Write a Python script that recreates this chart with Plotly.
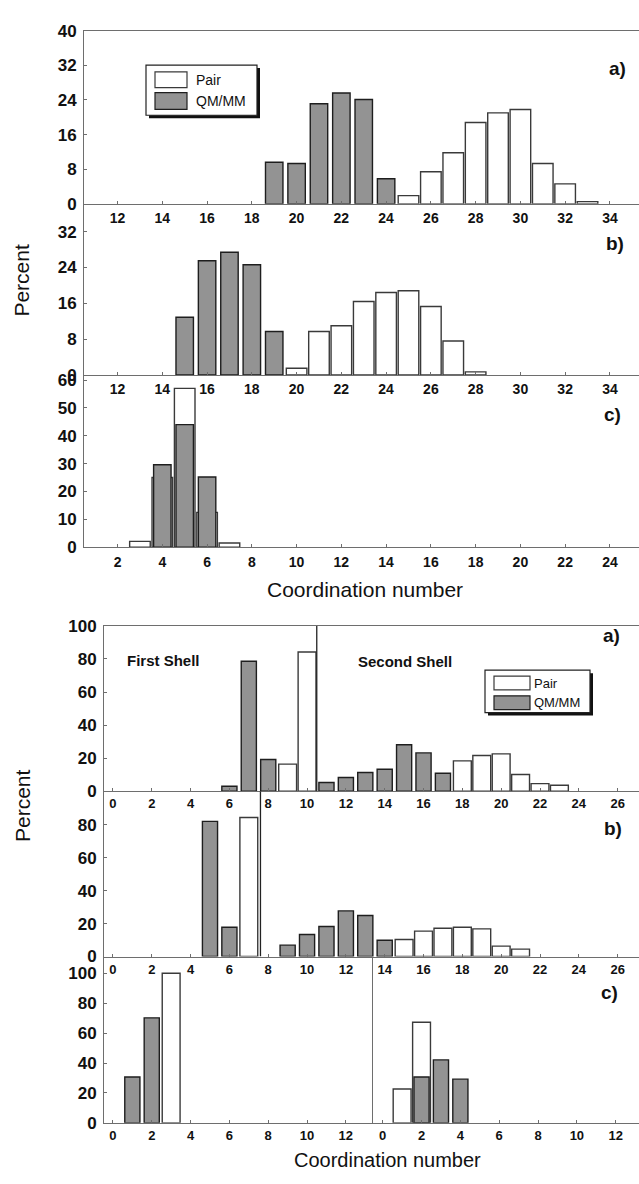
import plotly.graph_objects as go

W, H = 639, 1184


def fx(p):
    return p / W


def fy(p):
    return 1 - p / H


# ---------------- data ----------------
# Upper figure
TOP_A_QMMM_X = [19, 20, 21, 22, 23, 24]
TOP_A_QMMM_Y = [9.6, 9.3, 23.1, 25.6, 24.1, 5.8]
TOP_A_PAIR_X = [25, 26, 27, 28, 29, 30, 31, 32, 33]
TOP_A_PAIR_Y = [1.9, 7.4, 11.8, 18.8, 21.0, 21.8, 9.3, 4.6, 0.5]

TOP_B_QMMM_X = [15, 16, 17, 18, 19]
TOP_B_QMMM_Y = [12.9, 25.5, 27.4, 24.6, 9.7]
TOP_B_PAIR_X = [20, 21, 22, 23, 24, 25, 26, 27, 28]
TOP_B_PAIR_Y = [1.5, 9.7, 11.0, 16.4, 18.4, 18.8, 15.3, 7.6, 0.7]

TOP_C_PAIR_X = [3, 4, 5, 6, 7]
TOP_C_PAIR_Y = [2.1, 25.0, 57.0, 12.5, 1.5]
TOP_C_QMMM_X = [4, 5, 6]
TOP_C_QMMM_Y = [29.6, 44.0, 25.2]

TOP_AB_TICKS = [12, 14, 16, 18, 20, 22, 24, 26, 28, 30, 32, 34]
TOP_C_TICKS = [2, 4, 6, 8, 10, 12, 14, 16, 18, 20, 22, 24]
TOP_A_YTICKS = [0, 8, 16, 24, 32, 40]
TOP_B_YTICKS = [0, 8, 16, 24, 32]
TOP_C_YTICKS = [0, 10, 20, 30, 40, 50, 60]

# Lower figure
BOT_A_QMMM_X = [6, 7, 8, 11, 12, 13, 14, 15, 16, 17]
BOT_A_QMMM_Y = [3.0, 78.6, 19.2, 5.3, 8.3, 11.3, 13.3, 28.1, 23.2, 10.9]
BOT_A_PAIR_X = [9, 10, 18, 19, 20, 21, 22, 23]
BOT_A_PAIR_Y = [16.4, 84.2, 18.4, 21.6, 22.6, 10.1, 4.6, 3.6]

BOT_B_QMMM_X = [5, 6, 9, 10, 11, 12, 13, 14]
BOT_B_QMMM_Y = [82.0, 17.8, 6.9, 13.4, 18.2, 27.7, 24.9, 9.9]
BOT_B_PAIR_X = [7, 15, 16, 17, 18, 19, 20, 21]
BOT_B_PAIR_Y = [84.4, 10.3, 15.4, 17.2, 17.8, 16.8, 6.3, 4.5]

BOT_CL_QMMM_X = [1, 2]
BOT_CL_QMMM_Y = [30.7, 70.2]
BOT_CL_PAIR_X = [3]
BOT_CL_PAIR_Y = [100.0]

BOT_CR_PAIR_X = [1, 2]
BOT_CR_PAIR_Y = [22.6, 67.3]
BOT_CR_QMMM_X = [2, 3, 4]
BOT_CR_QMMM_Y = [30.7, 42.1, 29.2]

BOT_AB_TICKS = list(range(0, 27, 2))
BOT_C_TICKS = list(range(0, 13, 2))
BOT_A_YTICKS = [0, 20, 40, 60, 80, 100]
BOT_B_YTICKS = [0, 20, 40, 60, 80]
BOT_C_YTICKS = [0, 20, 40, 60, 80, 100]

SHELL_DIVIDER_A = 10.5
SHELL_DIVIDER_B = 7.6

# ---------------- style ----------------
FONT = "Arial, Liberation Sans, sans-serif"
QM_FILL = "#939393"
QM_LINE = "#1e1e1e"
PAIR_FILL = "#ffffff"
PAIR_LINE = "#3a3a3a"
AXIS_COLOR = "#6e6e6e"
PAIR_W = 0.92
QM_W = 0.78

fig = go.Figure()


def add_bars(xs, ys, xa, ya, kind):
    if kind == "pair":
        fig.add_trace(go.Bar(x=xs, y=ys, width=PAIR_W, xaxis=xa, yaxis=ya,
                             marker=dict(color=PAIR_FILL, line=dict(color=PAIR_LINE, width=1.4)),
                             showlegend=False, name="Pair"))
    else:
        fig.add_trace(go.Bar(x=xs, y=ys, width=QM_W, xaxis=xa, yaxis=ya,
                             marker=dict(color=QM_FILL, line=dict(color=QM_LINE, width=1.4)),
                             showlegend=False, name="QM/MM"))


add_bars(TOP_A_PAIR_X, TOP_A_PAIR_Y, "x", "y", "pair")
add_bars(TOP_A_QMMM_X, TOP_A_QMMM_Y, "x", "y", "qm")
add_bars(TOP_B_PAIR_X, TOP_B_PAIR_Y, "x2", "y2", "pair")
add_bars(TOP_B_QMMM_X, TOP_B_QMMM_Y, "x2", "y2", "qm")
add_bars(TOP_C_PAIR_X, TOP_C_PAIR_Y, "x3", "y3", "pair")
add_bars(TOP_C_QMMM_X, TOP_C_QMMM_Y, "x3", "y3", "qm")

add_bars(BOT_A_PAIR_X, BOT_A_PAIR_Y, "x4", "y4", "pair")
add_bars(BOT_A_QMMM_X, BOT_A_QMMM_Y, "x4", "y4", "qm")
add_bars(BOT_B_PAIR_X, BOT_B_PAIR_Y, "x5", "y5", "pair")
add_bars(BOT_B_QMMM_X, BOT_B_QMMM_Y, "x5", "y5", "qm")
add_bars(BOT_CL_PAIR_X, BOT_CL_PAIR_Y, "x6", "y6", "pair")
add_bars(BOT_CL_QMMM_X, BOT_CL_QMMM_Y, "x6", "y6", "qm")
add_bars(BOT_CR_PAIR_X, BOT_CR_PAIR_Y, "x7", "y7", "pair")
add_bars(BOT_CR_QMMM_X, BOT_CR_QMMM_Y, "x7", "y7", "qm")


def xax(domain, rng, ticks, anchor, size, standoff, mirror=False):
    return dict(domain=domain, range=rng, anchor=anchor, tickmode="array", tickvals=ticks,
                ticktext=[str(t) for t in ticks], showline=True, linecolor=AXIS_COLOR,
                linewidth=1, mirror=mirror, ticks="inside", ticklen=3, tickcolor=AXIS_COLOR,
                showgrid=False, zeroline=False, fixedrange=True,
                tickfont=dict(family=FONT, size=size, color="#111", weight="bold"),
                ticklabelstandoff=standoff)


def yax(domain, rng, ticks, anchor, size, show=True):
    return dict(domain=domain, range=rng, anchor=anchor, tickmode="array", tickvals=ticks,
                ticktext=[str(t) for t in ticks], showline=True, linecolor=AXIS_COLOR,
                linewidth=1, ticks="inside" if show else "", ticklen=3, tickcolor=AXIS_COLOR,
                showticklabels=show, showgrid=False, zeroline=False, fixedrange=True,
                tickfont=dict(family=FONT, size=size, color="#111", weight="bold"),
                ticklabelstandoff=3)


TL, BL, DIV = 84, 104, 373

layout = dict(
    width=W, height=H, margin=dict(l=0, r=0, t=0, b=0),
    paper_bgcolor="white", plot_bgcolor="rgba(0,0,0,0)",
    barmode="overlay", showlegend=False,
    xaxis=xax([fx(TL), 1], [10.5, 35.3], TOP_AB_TICKS, "y", 14, 1, mirror=True),
    yaxis=yax([fy(198), fy(22)], [0, 40], TOP_A_YTICKS, "x", 17),
    xaxis2=xax([fx(TL), 1], [10.5, 35.3], TOP_AB_TICKS, "y2", 14, 1),
    yaxis2=yax([fy(372), fy(198)], [0, 38.2], TOP_B_YTICKS, "x2", 17),
    xaxis3=xax([fx(TL), 1], [0.5, 25.3], TOP_C_TICKS, "y3", 14, 2),
    yaxis3=yax([fy(547), fy(372)], [0, 61.8], TOP_C_YTICKS, "x3", 17),
    xaxis4=xax([fx(BL), 1], [-0.46, 27.1], BOT_AB_TICKS, "y4", 13, 0, mirror=True),
    yaxis4=yax([fy(795), fy(627)], [0, 100], BOT_A_YTICKS, "x4", 17),
    xaxis5=xax([fx(BL), 1], [-0.46, 27.1], BOT_AB_TICKS, "y5", 13, 1),
    yaxis5=yax([fy(963), fy(795)], [0, 100.3], BOT_B_YTICKS, "x5", 17),
    xaxis6=xax([fx(BL), fx(DIV)], [-0.46, 13.4], BOT_C_TICKS, "y6", 13, 1),
    yaxis6=yax([fy(1132), fy(963)], [0, 111.2], BOT_C_YTICKS, "x6", 17),
    xaxis7=xax([fx(DIV), 1], [-0.5, 13.2], BOT_C_TICKS, "y7", 13, 1),
    yaxis7=yax([fy(1132), fy(963)], [0, 111.2], BOT_C_YTICKS, "x7", 17, show=False),
)
fig.update_layout(**layout)

# shell divider lines (data coordinates)
fig.add_shape(type="line", xref="x4", yref="y4", x0=SHELL_DIVIDER_A, x1=SHELL_DIVIDER_A,
              y0=0, y1=100, line=dict(color="#222", width=1.3))
fig.add_shape(type="line", xref="x5", yref="y5", x0=SHELL_DIVIDER_B, x1=SHELL_DIVIDER_B,
              y0=0, y1=100.3, line=dict(color="#222", width=1.3))


def legend_box(x0, y0, x1, y1, sw_x0, sw_x1, rows, text_x, fsize):
    # shadow
    fig.add_shape(type="rect", xref="paper", yref="paper", x0=fx(x0 + 3), x1=fx(x1 + 3),
                  y0=fy(y1 + 3), y1=fy(y0 + 3), fillcolor="#111", line=dict(width=0), layer="above")
    fig.add_shape(type="rect", xref="paper", yref="paper", x0=fx(x0), x1=fx(x1),
                  y0=fy(y1), y1=fy(y0), fillcolor="white", line=dict(color="#222", width=1.2),
                  layer="above")
    for (ry0, ry1, fill, lc, label) in rows:
        fig.add_shape(type="rect", xref="paper", yref="paper", x0=fx(sw_x0), x1=fx(sw_x1),
                      y0=fy(ry1), y1=fy(ry0), fillcolor=fill, line=dict(color=lc, width=1.2),
                      layer="above")
        fig.add_annotation(xref="paper", yref="paper", x=fx(text_x), y=fy((ry0 + ry1) / 2),
                           text=label, showarrow=False, xanchor="left", yanchor="middle",
                           font=dict(family=FONT, size=fsize, color="#111"))


legend_box(146, 57, 257, 108, 155, 187,
           [(64, 80, PAIR_FILL, PAIR_LINE, "Pair"), (85, 102, QM_FILL, QM_LINE, "QM/MM")], 194, 14)
legend_box(485, 672, 590, 715, 494, 530,
           [(678, 692, PAIR_FILL, PAIR_LINE, "Pair"), (698, 712, QM_FILL, QM_LINE, "QM/MM")], 532, 13)


def text(x, y, s, size, bold=False, angle=0, anchor="center"):
    fig.add_annotation(xref="paper", yref="paper", x=fx(x), y=fy(y), text=s, showarrow=False,
                       xanchor=anchor, yanchor="middle", textangle=angle,
                       font=dict(family=FONT, size=size, color="#111",
                                 weight="bold" if bold else "normal"))


# panel letters
text(617, 60, "a)", 19, True)
text(615, 238, "b)", 19, True)
text(612, 412, "c)", 19, True)
text(611, 637, "a)", 19, True)
text(613, 833, "b)", 19, True)
text(609, 1000, "c)", 19, True)

# shell labels
text(163, 662, "First Shell", 15, True)
text(405, 663, "Second Shell", 15, True)

# axis titles
text(365, 590, "Coordination number", 21)
text(387, 1170, "Coordination number", 20)
text(22, 276, "Percent", 21, angle=-90)
text(22, 810, "Percent", 21, angle=-90)

fig.write_html("out.html")
